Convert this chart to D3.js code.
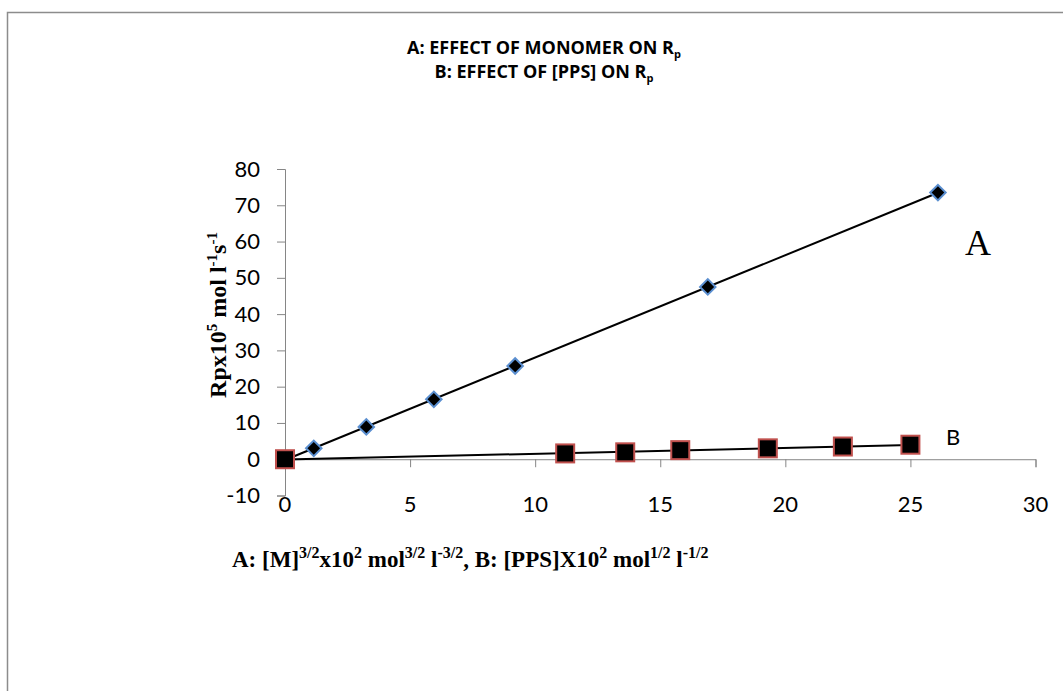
<!DOCTYPE html>
<html>
<head>
<meta charset="utf-8">
<script src="https://cdn.jsdelivr.net/npm/d3@7"></script>
<style>
  body { margin: 0; background: #fff; }
  svg { display: block; }
</style>
</head>
<body>
<svg id="chart"></svg>
<script>
const width = 1063
const height = 691

// series A: [M]^3/2 vs Rp
const xA = [0, 1.15, 3.25, 5.95, 9.2, 16.9, 26.1]
const yA = [0, 3.0, 8.9, 16.5, 25.7, 47.5, 73.5]
// series B: [PPS] vs Rp
const xB = [0, 11.2, 13.6, 15.8, 19.3, 22.3, 25.0]
const yB = [0, 1.6, 1.9, 2.5, 3.0, 3.5, 4.0]

const xTicks = [0, 5, 10, 15, 20, 25, 30]
const yTicks = [-10, 0, 10, 20, 30, 40, 50, 60, 70, 80]

const sans = "Lato, 'Open Sans', sans-serif"
const serif = "'Liberation Serif', 'DejaVu Serif', serif"
const axisColor = "#868686"

const svg = d3.select("#chart")
              .attr("width", width)
              .attr("height", height)

// frame (only top and left edges show)
svg.append("path")
   .attr("d", "M7.5,691 V12.5 H1063")
   .attr("fill", "none")
   .attr("stroke", "#8c8c8c")
   .attr("stroke-width", 1.5)

const x = d3.scaleLinear().domain([0, 30]).range([285, 1035.5])
const y = d3.scaleLinear().domain([-10, 80]).range([495.5, 169])

// y axis
const yAxis = svg.append("g")
                 .attr("transform", `translate(${x(0)},0)`)
                 .call(d3.axisLeft(y).tickValues(yTicks).tickSize(8).tickPadding(17)
                         .tickFormat(d => String(d)))
yAxis.select(".domain").attr("stroke", axisColor)
yAxis.selectAll("line").attr("stroke", axisColor)
yAxis.selectAll("text")
     .attr("font-family", sans)
     .attr("font-size", 22)
     .attr("fill", "#000")

// x axis crosses at y = 0, labels sit lower
const xAxis = svg.append("g")
                 .attr("transform", `translate(0,${y(0)})`)
                 .call(d3.axisBottom(x).tickValues(xTicks).tickSize(8).tickFormat(""))
xAxis.select(".domain").attr("stroke", axisColor)
xAxis.selectAll("line").attr("stroke", axisColor)

svg.append("g")
   .selectAll("text")
   .data(xTicks)
   .join("text")
     .attr("x", d => x(d))
     .attr("y", 512)
     .attr("text-anchor", "middle")
     .attr("font-family", sans)
     .attr("font-size", 22)
     .text(d => d)

// linear trendlines
function fit(xs, ys) {
  const mx = d3.mean(xs), my = d3.mean(ys)
  const b = d3.sum(xs, (v, i) => (v - mx) * (ys[i] - my)) / d3.sum(xs, v => (v - mx) ** 2)
  return { b: b, a: my - b * mx }
}
function trend(xs, ys) {
  const f = fit(xs, ys)
  const x0 = d3.min(xs), x1 = d3.max(xs)
  return [[x0, f.a + f.b * x0], [x1, f.a + f.b * x1]]
}
const line = d3.line().x(d => x(d[0])).y(d => y(d[1]))

svg.append("path")
   .attr("d", line(trend(xB, yB)))
   .attr("stroke", "#000").attr("stroke-width", 2).attr("fill", "none")
svg.append("path")
   .attr("d", line(trend(xA, yA)))
   .attr("stroke", "#000").attr("stroke-width", 2).attr("fill", "none")

// markers
const dataA = xA.map((v, i) => [v, yA[i]])
const dataB = xB.map((v, i) => [v, yB[i]])

svg.append("g")
   .selectAll("path")
   .data(dataA)
   .join("path")
     .attr("d", d3.symbol(d3.symbolSquare, 120))
     .attr("transform", d => `translate(${x(d[0])},${y(d[1])}) rotate(45)`)
     .attr("fill", "#000")
     .attr("stroke", "#5b8fd0")
     .attr("stroke-width", 2)

svg.append("g")
   .selectAll("rect")
   .data(dataB)
   .join("rect")
     .attr("x", d => x(d[0]) - 9)
     .attr("y", d => y(d[1]) - 9)
     .attr("width", 18)
     .attr("height", 18)
     .attr("fill", "#000")
     .attr("stroke", "#c0504d")
     .attr("stroke-width", 2)

// series labels
svg.append("text")
   .attr("x", 978).attr("y", 255)
   .attr("text-anchor", "middle")
   .attr("font-family", serif)
   .attr("font-size", 36)
   .text("A")
svg.append("text")
   .attr("x", 953).attr("y", 445)
   .attr("text-anchor", "middle")
   .attr("font-family", sans)
   .attr("font-size", 22)
   .text("B")

// title
const title = svg.append("g")
                 .attr("font-family", "'Open Sans', sans-serif")
                 .attr("font-weight", "bold")
                 .attr("font-size", 18)
                 .attr("text-anchor", "middle")
const t1 = title.append("text").attr("x", 544).attr("y", 54)
t1.append("tspan").text("A: EFFECT OF MONOMER ON R")
t1.append("tspan").attr("font-size", 11).attr("dy", 4).text("p")
const t2 = title.append("text").attr("x", 544).attr("y", 78)
t2.append("tspan").text("B: EFFECT OF [PPS] ON R")
t2.append("tspan").attr("font-size", 11).attr("dy", 4).text("p")

// y axis title
const yt = svg.append("text")
              .attr("transform", "translate(226,315) rotate(-90)")
              .attr("text-anchor", "middle")
              .attr("font-family", serif)
              .attr("font-weight", "bold")
              .attr("font-size", 24)
yt.append("tspan").text("Rpx10")
yt.append("tspan").attr("font-size", 15).attr("dy", -9).text("5")
yt.append("tspan").attr("dy", 9).text(" mol l")
yt.append("tspan").attr("font-size", 15).attr("dy", -9).text("-1")
yt.append("tspan").attr("dy", 9).text("s")
yt.append("tspan").attr("font-size", 15).attr("dy", -9).text("-1")

// x axis title
const xt = svg.append("text")
              .attr("x", 232).attr("y", 567)
              .attr("font-family", serif)
              .attr("font-weight", "bold")
              .attr("font-size", 23)
const parts = [
  ["A: [M]", 0], ["3/2", 1], ["x10", 0], ["2", 1], [" mol", 0], ["3/2", 1],
  [" l", 0], ["-3/2", 1], [", B: [PPS]X10", 0], ["2", 1], [" mol", 0], ["1/2", 1],
  [" l", 0], ["-1/2", 1]
]
let prevSup = 0
parts.forEach(p => {
  const dy = p[1] === prevSup ? 0 : (p[1] ? -9 : 9)
  xt.append("tspan")
    .attr("dy", dy)
    .attr("font-size", p[1] ? 16 : 23)
    .text(p[0])
  prevSup = p[1]
})
</script>
</body>
</html>
